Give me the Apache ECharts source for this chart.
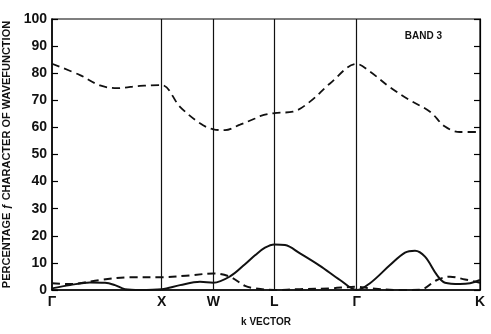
<!DOCTYPE html>
<html><head><meta charset="utf-8">
<script src="https://cdn.jsdelivr.net/npm/echarts@6/dist/echarts.min.js"></script>
<style>html,body{margin:0;padding:0;background:#fff}#c{width:491px;height:334px}</style>
</head><body><div id="c"></div>
<script>
// k-point positions along the path (arbitrary k units) and their labels
const kTicks = [0, 109.7, 161.3, 222.3, 304.7, 428];
const kLabels = ['Γ', 'X', 'W', 'L', 'Γ', 'K'];
const yTicks = [0, 10, 20, 30, 40, 50, 60, 70, 80, 90, 100];

// Upper dashed curve
const upperK = [0, 28, 48, 65, 88, 109.7, 128, 148, 161.3, 173, 188, 203, 208, 222.3, 241, 258, 278, 304.7, 318, 338, 358, 378, 393, 408, 428];
const upperV = [83.5, 79.3, 75.5, 74.5, 75.3, 75.6, 67.6, 61.5, 59.3, 59.0, 61.0, 63.3, 64.2, 65.3, 65.8, 69.5, 76.2, 83.4, 80.6, 74.8, 70.0, 65.8, 60.3, 58.3, 58.3];

// Lower solid curve
const solidK = [0, 18, 38, 53, 63, 73, 88, 109.7, 128, 148, 161.3, 178, 193, 203, 213, 222.3, 233, 248, 268, 288, 304.7, 318, 338, 353, 363, 373, 385, 393, 408, 418, 428];
const solidV = [0.6, 1.8, 2.8, 2.7, 1.8, 0.3, 0.0, 0.3, 1.8, 3.0, 2.7, 5.0, 9.5, 12.8, 15.6, 16.8, 16.6, 13.5, 8.9, 3.7, 0.0, 2.5, 9.2, 13.8, 14.5, 12.3, 5.5, 2.7, 2.2, 2.5, 3.7];

// Lower dashed curve
const dashK = [0, 18, 48, 78, 109.7, 138, 161.3, 178, 193, 203, 222.3, 248, 278, 304.7, 318, 348, 368, 385, 398, 413, 428];
const dashV = [2.5, 2.2, 3.7, 4.7, 4.7, 5.4, 6.1, 4.9, 1.5, 0.6, 0.0, 0.3, 0.6, 1.2, 0.6, 0.0, 0.1, 3.7, 4.9, 3.9, 2.7];

const zip = (a, b) => a.map((x, i) => [x, b[i]]);
const font = 'Liberation Sans, Arial, sans-serif';

const chart = echarts.init(document.getElementById('c'), null, {renderer: 'canvas'});
chart.setOption({
  animation: false,
  backgroundColor: '#fff',
  grid: {left: 52, right: 11, top: 19, bottom: 44, outerBoundsMode: 'none', containLabel: false,
         show: true, borderColor: '#000', borderWidth: 1.2},
  title: {
    text: 'BAND 3', right: 44, top: 26,
    textStyle: {fontFamily: font, fontSize: 10, fontWeight: 'bold', color: '#111'}
  },
  xAxis: {
    type: 'value', min: 0, max: 428,
    name: 'k VECTOR', nameLocation: 'middle', nameGap: 27,
    nameTextStyle: {fontFamily: font, fontSize: 10, fontWeight: 'bold', color: '#111'},
    axisLine: {show: true, lineStyle: {color: '#000', width: 1.5}},
    axisTick: {show: false},
    splitLine: {show: false},
    axisLabel: {
      customValues: kTicks,
      formatter: v => { const i = kTicks.findIndex(t => Math.abs(t - v) < 0.01); return i >= 0 ? kLabels[i] : ''; },
      fontFamily: font, fontSize: 14, fontWeight: 'bold', color: '#111', margin: 5
    }
  },
  yAxis: [{
    type: 'value', min: 0, max: 100, interval: 10,
    name: 'PERCENTAGE ƒ CHARACTER OF WAVEFUNCTION', nameLocation: 'middle', nameGap: 36,
    nameTextStyle: {fontFamily: font, fontSize: 11, fontWeight: 'bold', color: '#111'},
    axisLine: {show: true, lineStyle: {color: '#000', width: 1.5}},
    axisTick: {show: true, inside: true, length: 6, lineStyle: {color: '#000', width: 1.2}},
    splitLine: {show: false},
    axisLabel: {fontFamily: font, fontSize: 14, fontWeight: 'bold', color: '#111', margin: 5}
  }, {
    type: 'value', min: 0, max: 100, interval: 10, position: 'right',
    axisLine: {show: true, lineStyle: {color: '#000', width: 1.2}},
    axisTick: {show: true, inside: true, length: 6, lineStyle: {color: '#000', width: 1.2}},
    axisLabel: {show: false}, splitLine: {show: false}
  }],
  series: [{
    type: 'line', data: zip(upperK, upperV), smooth: 0.35, symbol: 'none',
    lineStyle: {color: '#111', width: 1.8, type: [8, 5]},
    markLine: {
      silent: true, symbol: 'none', label: {show: false},
      lineStyle: {color: '#111', width: 1.2, type: 'solid'},
      data: kTicks.slice(1, 5).map(v => ({xAxis: v}))
    }
  }, {
    type: 'line', data: zip(solidK, solidV), smooth: 0.35, symbol: 'none',
    lineStyle: {color: '#111', width: 2}
  }, {
    type: 'line', data: zip(dashK, dashV), smooth: 0.35, symbol: 'none',
    lineStyle: {color: '#111', width: 2, type: [8, 5]}
  }]
});
</script></body></html>
